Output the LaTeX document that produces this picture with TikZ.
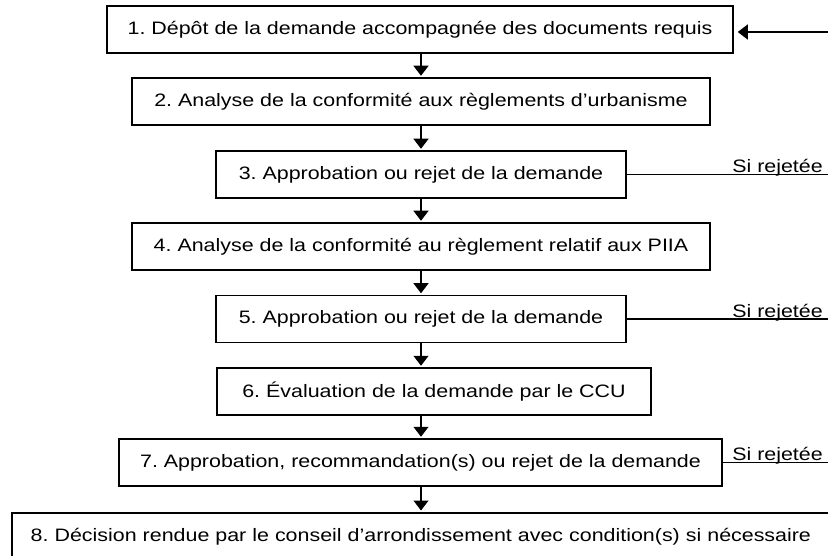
\documentclass[tikz,border=0pt]{standalone}
\usepackage{fontspec}
\setmainfont{Liberation Sans}[FakeStretch=1.19]
\usetikzlibrary{arrows.meta,calc}
\begin{document}
\frenchspacing
\begin{tikzpicture}[x=1pt,y=-1pt,
  stepbox/.style={draw,line width=1.5pt,inner sep=0pt,minimum height=47pt,
    font=\fontsize{18}{21}\selectfont},
  arr/.style={line width=1.2pt,-{Triangle[length=10pt,width=15pt]},shorten >=1.5pt},
  rej/.style={line width=1.2pt},
  rejlab/.style={anchor=base east,inner sep=0pt,font=\fontsize{18}{21}\selectfont}]
\useasboundingbox (0,0) rectangle (828,556);
\clip (0,0) rectangle (828,556);
\coordinate (ax) at (421,0);
\coordinate (rx) at (828,0);
\node[stepbox,minimum width=626pt] (b1) at (420,29.5) {1. Dépôt de la demande accompagnée des documents requis};
\node[stepbox,minimum width=578pt] (b2) at (421,101.5) {2. Analyse de la conformité aux règlements d’urbanisme};
\node[stepbox,minimum width=410pt] (b3) at (421,174.5) {3. Approbation ou rejet de la demande};
\node[stepbox,minimum width=578pt] (b4) at (421,246.5) {4. Analyse de la conformité au règlement relatif aux PIIA};
\node[stepbox,minimum width=410pt] (b5) at (421,319) {5. Approbation ou rejet de la demande};
\node[stepbox,minimum width=434pt] (b6) at (434,391.5) {6. Évaluation de la demande par le CCU};
\node[stepbox,minimum width=603pt] (b7) at (420.5,462.5) {7. Approbation, recommandation(s) ou rejet de la demande};
\node[stepbox,anchor=north west,text width=836pt,align=left] (b8) at (11,512) {\hspace*{19pt}8. Décision rendue par le conseil d’arrondissement avec condition(s) si nécessaire};
\foreach \a/\b in {b1/b2,b2/b3,b3/b4,b4/b5,b5/b6,b6/b7,b7/b8}
  \draw[arr] (\a.south -| ax) -- (\b.north -| ax);
\coordinate (in1) at (828,32);
\draw[arr,shorten >=4pt] (in1) -- (in1 -| b1.east);
\foreach \b in {b3,b5,b7}{
  \draw[rej] (\b.east) -- (\b.east -| rx);
  \node[rejlab] at ($(\b.east -| rx)+(-5,-2)$) {Si rejetée};
}
\end{tikzpicture}
\end{document}
